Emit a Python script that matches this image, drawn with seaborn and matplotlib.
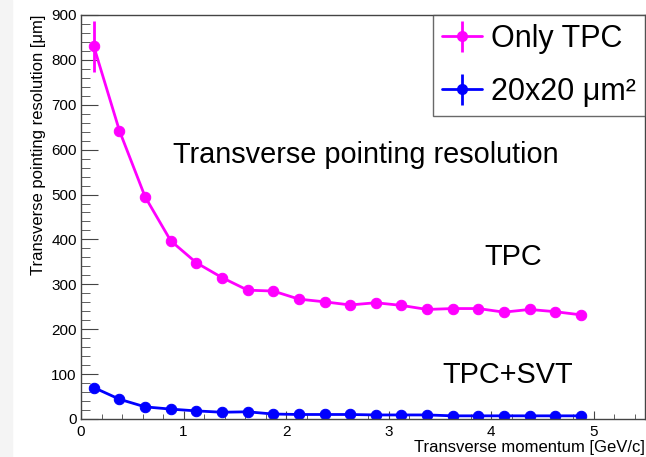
import numpy as np
import pandas as pd
import seaborn as sns
import matplotlib.pyplot as plt
from matplotlib.ticker import MultipleLocator
from matplotlib.patches import Rectangle

# transverse momentum bins (GeV/c)
pt = [0.125, 0.375, 0.625, 0.875, 1.125, 1.375, 1.625, 1.875, 2.125, 2.375,
      2.625, 2.875, 3.125, 3.375, 3.625, 3.875, 4.125, 4.375, 4.625, 4.875]

# pointing resolution (um)
only_tpc = [830, 642, 495, 397, 348, 315, 287, 285, 267, 261,
            254, 259, 253, 244, 246, 246, 238, 244, 239, 232]
only_tpc_err = [57] + [4] * 19
tpc_svt = [70, 44, 27, 22, 18, 15, 16, 11, 10, 10,
           10, 9, 9, 9, 7, 7, 7, 7, 7, 7]
tpc_svt_err = [2] * 20

sns.set_style("ticks")
plt.rcParams['font.family'] = ['Liberation Sans', 'DejaVu Sans']
plt.rcParams['text.color'] = 'black'
plt.rcParams['axes.labelcolor'] = 'black'
plt.rcParams['xtick.labelcolor'] = 'black'
plt.rcParams['ytick.labelcolor'] = 'black'

fig = plt.figure(figsize=(6.46, 4.57), dpi=100)
# light grey strip on the left edge like the original canvas
fig.patches.append(Rectangle((0, 0), 12 / 646, 1, transform=fig.transFigure,
                             color='#f4f4f4', zorder=-1))
ax = fig.add_axes([0.1254, 0.0832, 0.873, 0.884])

df = pd.DataFrame({'pt': pt, 'tpc': only_tpc, 'svt': tpc_svt})

magenta = '#ff00ff'
blue = '#0000ff'

sns.lineplot(data=df, x='pt', y='tpc', color=magenta, marker='o', markersize=7.5,
             markeredgecolor=magenta, linewidth=2, ax=ax, legend=False)
sns.lineplot(data=df, x='pt', y='svt', color=blue, marker='o', markersize=7.5,
             markeredgecolor=blue, linewidth=2, ax=ax, legend=False)
ax.errorbar(pt, only_tpc, yerr=only_tpc_err, fmt='none', ecolor=magenta,
            elinewidth=2, capsize=0)
ax.errorbar(pt, tpc_svt, yerr=tpc_svt_err, fmt='none', ecolor=blue,
            elinewidth=2, capsize=0)

# proxy handles for the ROOT-like legend glyphs
h_m = ax.errorbar([], [], yerr=[], fmt='o-', color=magenta, markersize=7,
                  linewidth=2, elinewidth=2, capsize=3, capthick=2)
h_b = ax.errorbar([], [], yerr=[], fmt='o-', color=blue, markersize=7,
                  linewidth=2, elinewidth=2, capsize=3, capthick=2)

ax.set_xlim(0, 5.5)
ax.set_ylim(0, 900)
ax.xaxis.set_major_locator(MultipleLocator(1))
ax.xaxis.set_minor_locator(MultipleLocator(0.2))
ax.yaxis.set_major_locator(MultipleLocator(100))
ax.yaxis.set_minor_locator(MultipleLocator(20))
ax.tick_params(axis='x', which='major', direction='in', length=6, labelsize=11, pad=4)
ax.tick_params(axis='x', which='minor', direction='in', length=3.5)
ax.tick_params(axis='y', which='major', direction='in', length=12.5, labelsize=11, pad=3)
ax.tick_params(axis='y', which='minor', direction='in', length=6.5)
ax.tick_params(which='both', color='#444444')
for s in ax.spines.values():
    s.set_color('#444444')
    s.set_linewidth(1)
    s.set_visible(True)

ax.set_xlabel('Transverse momentum [GeV/c]', loc='right', fontsize=12, labelpad=1)
ax.set_ylabel('Transverse pointing resolution [μm]', loc='top', fontsize=12, labelpad=4)

ax.text(0.9, 588, 'Transverse pointing resolution', fontsize=20.8, va='center')
ax.text(3.93, 360, 'TPC', fontsize=20.8, va='center')
ax.text(3.52, 98, 'TPC+SVT', fontsize=20.8, va='center')

leg = ax.legend([h_m, h_b], ['Only TPC', '20x20 μm²'],
                loc='upper right', borderaxespad=0, fontsize=22, frameon=True,
                fancybox=False, handlelength=1.3, handletextpad=0.3,
                borderpad=0.3, labelspacing=0.75)
leg.get_frame().set_edgecolor('#444444')
leg.get_frame().set_linewidth(1)

fig.savefig('out.png', dpi=100)
